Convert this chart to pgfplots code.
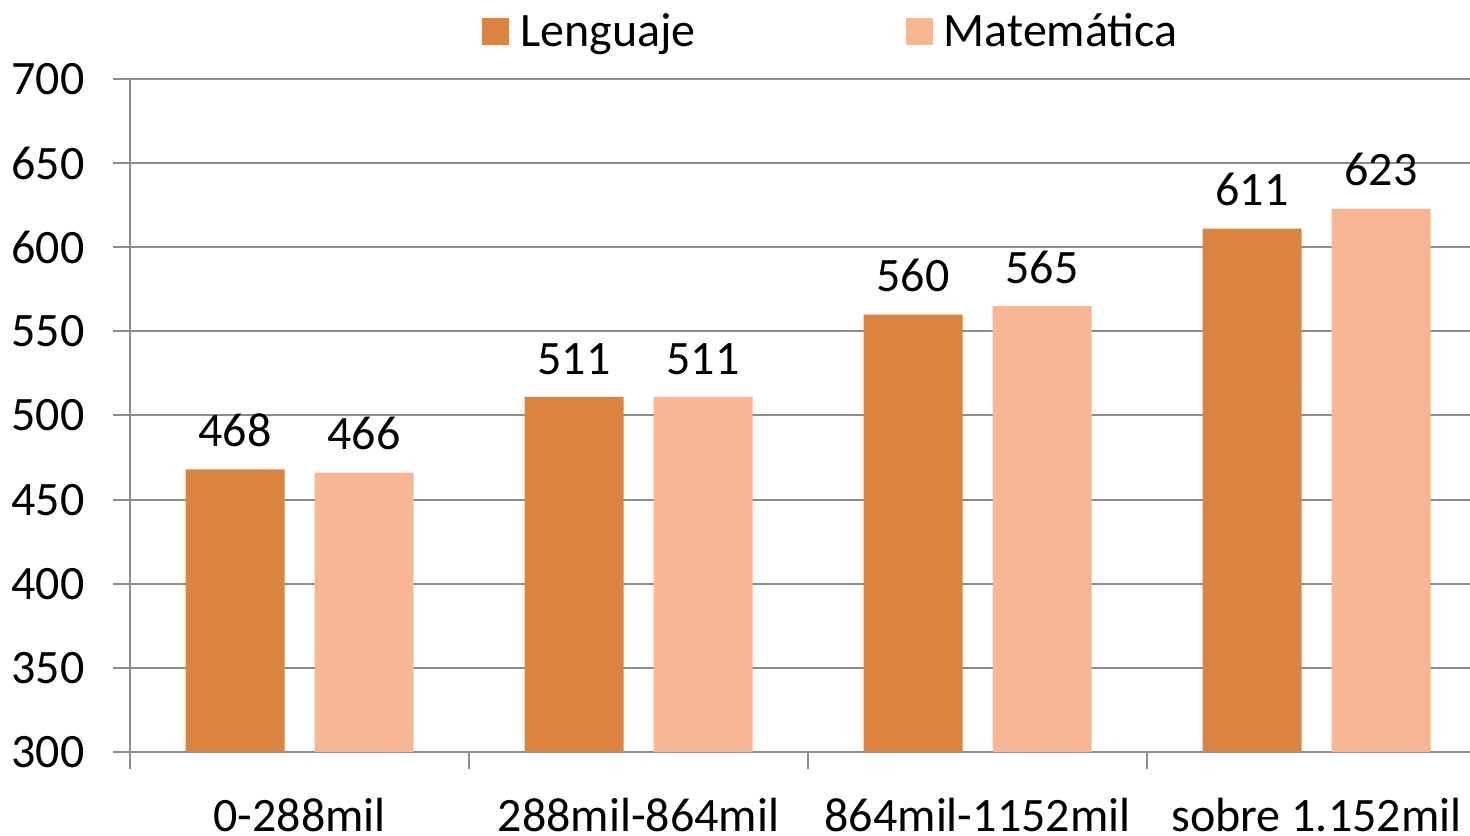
\documentclass[border=0pt]{standalone}
\usepackage{fontspec}
\setmainfont{Carlito}
\usepackage{pgfplots}
\pgfplotsset{compat=1.18}
\definecolor{lenguaje}{HTML}{DB843F}
\definecolor{matematica}{HTML}{F9B692}
\definecolor{gridgray}{HTML}{8C8C8C}
\newcommand{\bigfont}{\fontsize{24}{28}\selectfont}
\begin{document}
\begin{tikzpicture}
\begin{axis}[
  name=ax,
  scale only axis,
  width=670pt, height=336.5pt,
  xmin=0.5, xmax=4.4528,
  ymin=300, ymax=700,
  ytick={300,350,...,700},
  xtick={0.5,1.5,2.5,3.5},
  xticklabels={},
  extra x ticks={1,2,3,4},
  extra x tick labels={0-288mil,288mil-864mil,864mil-1152mil,sobre 1.152mil},
  extra x tick style={major tick length=0pt},
  axis x line=bottom, axis y line=left,
  axis line style={draw=gridgray, line width=1pt, -},
  tick align=outside,
  major tick length=8.5pt,
  tick style={draw=gridgray, line width=1pt},
  ymajorgrids,
  grid style={draw=gridgray, line width=1pt},
  /pgf/number format/assume math mode=true,
  ticklabel style={font=\bigfont},
  yticklabel style={anchor=east, inner sep=0pt, xshift=-14pt},
  xticklabel style={anchor=north, inner sep=0pt, yshift=-23pt},
  legend columns=2,
  legend style={draw=none, fill=none, font=\bigfont, inner sep=0pt,
    at={(0.2627,1.0713)}, anchor=west,
    /tikz/every even column/.append style={column sep=105pt},
    nodes={inner sep=0pt}},
  legend cell align=left,
  clip=false,
]
\addplot[ybar, bar width=49.5pt, bar shift=-32.25pt, fill=lenguaje, draw=none,
  nodes near coords,
  nodes near coords style={font=\bigfont, text=black, anchor=south, inner sep=0pt, yshift=11pt, xshift=-32.25pt},
  legend image code/.code={\fill[lenguaje] (0pt,-6.75pt) rectangle (13.5pt,6.75pt);}]
  coordinates {(1,468) (2,511) (3,560) (4,611)};
\addlegendentry{\hspace{5.5pt}Lenguaje}
\addplot[ybar, bar width=49.5pt, bar shift=32.25pt, fill=matematica, draw=none,
  nodes near coords,
  nodes near coords style={font=\bigfont, text=black, anchor=south, inner sep=0pt, yshift=11pt, xshift=32.25pt},
  legend image code/.code={\fill[matematica] (0pt,-6.75pt) rectangle (13.5pt,6.75pt);}]
  coordinates {(1,466) (2,511) (3,565) (4,623)};
\addlegendentry{\hspace{5.5pt}Matemática}
\end{axis}
\pgfresetboundingbox
\path[use as bounding box] (ax.south west) ++(-65pt,-41.5pt) rectangle ++(735pt,417.5pt);
\end{tikzpicture}
\end{document}
